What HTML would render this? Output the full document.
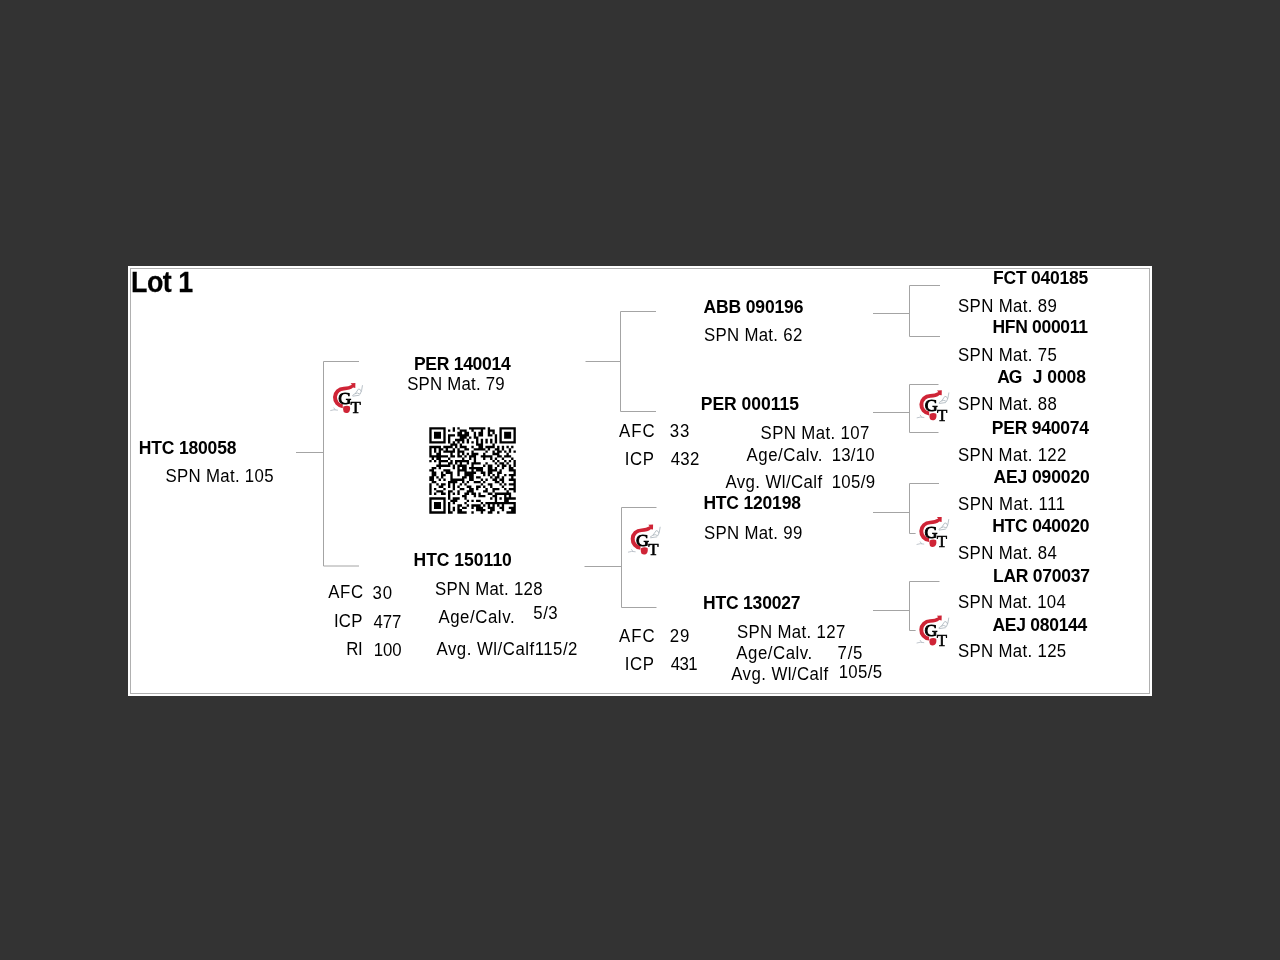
<!DOCTYPE html>
<html><head><meta charset="utf-8"><style>
html,body{margin:0;padding:0;background:#333;}
svg{display:block;filter:blur(0.35px);}
</style></head><body>
<svg width="1280" height="960" viewBox="0 0 1280 960">
<defs><g id="gt">
<rect x="-3.6" y="-36" width="37" height="40" fill="#fff"/>
<path d="M10.8 -27A10.7 10.7 0 0 0 9.87 -5.64L9.88 -9.5A7 7 0 0 1 11.1 -23.4Q17.2 -23.6 20.2 -26.2L22.4 -25.8L22.5 -30.8L17.7 -30.6L19 -29.1Q15.8 -27 10.8 -27Z" fill="#cf2436"/>
<path d="M10.4 -7.2Q14 -9 17 -7.4Q17.8 -3.4 15.6 -1.4Q13 0 10.8 -1.8Q9.7 -4.4 10.4 -7.2Z" fill="#cf2436"/>
<path d="M19.4 -18.2Q22 -20.5 24.5 -20.8L27.2 -19.6Q29 -22.5 29.6 -28.6M22.2 -20L25.6 -24.8Q27.6 -25 28.4 -22.2M19.8 -17.6L26.6 -18.6" fill="none" stroke="#a9b3bb" stroke-width="0.9" opacity="0.9"/>
<path d="M-2.6 -3.2Q1 -4.6 5 -3.6M0.8 -6.2L2.4 -3.8" fill="none" stroke="#b0b8c0" stroke-width="0.8"/>
<text x="5.4" y="-9.8" font-family="Liberation Serif" font-size="17.3" fill="#000" stroke="#000" stroke-width="0.9" transform="translate(5.4 0) scale(1.04 1) translate(-5.4 0)">G</text>
<text x="17.6" y="-0.45" font-family="Liberation Serif" font-size="16.9" fill="#000" stroke="#000" stroke-width="0.6" transform="translate(17.6 0) scale(1.0 1) translate(-17.6 0)">T</text>
</g></defs>
<rect width="1280" height="960" fill="#333333"/>
<rect x="128" y="266" width="1024" height="430" fill="#ffffff"/>
<rect x="130.5" y="268.5" width="1019" height="425" fill="none" stroke="#b0b0b0" stroke-width="1"/>
<g stroke="#a4a4a4" stroke-width="1" fill="none">
<path d="M296 452.5H323.5"/>
<path d="M323.5 361.5V566"/>
<path d="M323.5 361.5H359"/>
<path d="M323.5 566H359"/>
<path d="M585.5 361.5H620.5"/>
<path d="M620.5 311.5V411.5"/>
<path d="M620.5 311.5H656"/>
<path d="M620.5 411.5H656"/>
<path d="M584.5 566.5H621.5"/>
<path d="M621.5 507.5V607.5"/>
<path d="M621.5 507.5H656.5"/>
<path d="M621.5 607.5H656.5"/>
<path d="M873 313.5H909.5"/>
<path d="M909.5 285.5V336.5"/>
<path d="M909.5 285.5H940"/>
<path d="M909.5 336.5H940"/>
<path d="M873 412.5H909.5"/>
<path d="M909.5 384.5V432.5"/>
<path d="M909.5 384.5H938.5"/>
<path d="M909.5 432.5H938.5"/>
<path d="M873 512.5H909.5"/>
<path d="M909.5 483.5V533.5"/>
<path d="M909.5 483.5H939"/>
<path d="M909.5 533.5H939"/>
<path d="M873 610.5H909.5"/>
<path d="M909.5 581.5V630.5"/>
<path d="M909.5 581.5H939.5"/>
<path d="M909.5 630.5H939.5"/>
</g>
<use href="#gt" transform="translate(332.9 413.8)"/>
<use href="#gt" transform="translate(630.6 555.4)"/>
<use href="#gt" transform="translate(919.3 421.1)"/>
<use href="#gt" transform="translate(919.2 547.7)"/>
<use href="#gt" transform="translate(919.2 646.25)"/>
<path fill="#000" d="M429.30 427.15h16.37v2.34h-16.37zM452.68 427.15h2.34v2.34h-2.34zM457.36 427.15h2.34v2.34h-2.34zM469.05 427.15h16.37v2.34h-16.37zM487.75 427.15h2.34v2.34h-2.34zM499.44 427.15h16.37v2.34h-16.37zM429.30 429.49h2.34v2.34h-2.34zM443.33 429.49h2.34v2.34h-2.34zM448.00 429.49h2.34v2.34h-2.34zM452.68 429.49h2.34v2.34h-2.34zM459.69 429.49h7.01v2.34h-7.01zM471.38 429.49h2.34v2.34h-2.34zM480.74 429.49h2.34v2.34h-2.34zM487.75 429.49h7.01v2.34h-7.01zM499.44 429.49h2.34v2.34h-2.34zM513.47 429.49h2.34v2.34h-2.34zM429.30 431.83h2.34v2.34h-2.34zM433.98 431.83h7.01v2.34h-7.01zM443.33 431.83h2.34v2.34h-2.34zM457.36 431.83h4.68v2.34h-4.68zM464.37 431.83h4.68v2.34h-4.68zM473.72 431.83h2.34v2.34h-2.34zM478.40 431.83h4.68v2.34h-4.68zM487.75 431.83h2.34v2.34h-2.34zM492.43 431.83h2.34v2.34h-2.34zM499.44 431.83h2.34v2.34h-2.34zM504.12 431.83h7.01v2.34h-7.01zM513.47 431.83h2.34v2.34h-2.34zM429.30 434.16h2.34v2.34h-2.34zM433.98 434.16h7.01v2.34h-7.01zM443.33 434.16h2.34v2.34h-2.34zM448.00 434.16h7.01v2.34h-7.01zM457.36 434.16h11.69v2.34h-11.69zM473.72 434.16h2.34v2.34h-2.34zM478.40 434.16h4.68v2.34h-4.68zM487.75 434.16h4.68v2.34h-4.68zM494.76 434.16h2.34v2.34h-2.34zM499.44 434.16h2.34v2.34h-2.34zM504.12 434.16h7.01v2.34h-7.01zM513.47 434.16h2.34v2.34h-2.34zM429.30 436.50h2.34v2.34h-2.34zM433.98 436.50h7.01v2.34h-7.01zM443.33 436.50h2.34v2.34h-2.34zM448.00 436.50h2.34v2.34h-2.34zM459.69 436.50h7.01v2.34h-7.01zM469.05 436.50h2.34v2.34h-2.34zM473.72 436.50h4.68v2.34h-4.68zM494.76 436.50h2.34v2.34h-2.34zM499.44 436.50h2.34v2.34h-2.34zM504.12 436.50h7.01v2.34h-7.01zM513.47 436.50h2.34v2.34h-2.34zM429.30 438.84h2.34v2.34h-2.34zM443.33 438.84h2.34v2.34h-2.34zM448.00 438.84h2.34v2.34h-2.34zM455.02 438.84h9.35v2.34h-9.35zM466.71 438.84h2.34v2.34h-2.34zM476.06 438.84h2.34v2.34h-2.34zM480.74 438.84h2.34v2.34h-2.34zM485.41 438.84h2.34v2.34h-2.34zM490.09 438.84h2.34v2.34h-2.34zM494.76 438.84h2.34v2.34h-2.34zM499.44 438.84h2.34v2.34h-2.34zM513.47 438.84h2.34v2.34h-2.34zM429.30 441.18h16.37v2.34h-16.37zM448.00 441.18h2.34v2.34h-2.34zM452.68 441.18h2.34v2.34h-2.34zM457.36 441.18h2.34v2.34h-2.34zM462.03 441.18h2.34v2.34h-2.34zM466.71 441.18h2.34v2.34h-2.34zM471.38 441.18h2.34v2.34h-2.34zM476.06 441.18h2.34v2.34h-2.34zM480.74 441.18h2.34v2.34h-2.34zM485.41 441.18h2.34v2.34h-2.34zM490.09 441.18h2.34v2.34h-2.34zM494.76 441.18h2.34v2.34h-2.34zM499.44 441.18h16.37v2.34h-16.37zM450.34 443.52h7.01v2.34h-7.01zM459.69 443.52h2.34v2.34h-2.34zM476.06 443.52h7.01v2.34h-7.01zM492.43 443.52h2.34v2.34h-2.34zM429.30 445.85h11.69v2.34h-11.69zM443.33 445.85h9.35v2.34h-9.35zM455.02 445.85h2.34v2.34h-2.34zM459.69 445.85h7.01v2.34h-7.01zM471.38 445.85h2.34v2.34h-2.34zM478.40 445.85h4.68v2.34h-4.68zM485.41 445.85h9.35v2.34h-9.35zM497.10 445.85h2.34v2.34h-2.34zM501.78 445.85h2.34v2.34h-2.34zM506.45 445.85h2.34v2.34h-2.34zM511.13 445.85h2.34v2.34h-2.34zM429.30 448.19h2.34v2.34h-2.34zM433.98 448.19h2.34v2.34h-2.34zM438.65 448.19h4.68v2.34h-4.68zM445.67 448.19h2.34v2.34h-2.34zM452.68 448.19h2.34v2.34h-2.34zM457.36 448.19h2.34v2.34h-2.34zM464.37 448.19h4.68v2.34h-4.68zM473.72 448.19h11.69v2.34h-11.69zM487.75 448.19h2.34v2.34h-2.34zM494.76 448.19h4.68v2.34h-4.68zM501.78 448.19h2.34v2.34h-2.34zM508.79 448.19h2.34v2.34h-2.34zM429.30 450.53h2.34v2.34h-2.34zM433.98 450.53h2.34v2.34h-2.34zM438.65 450.53h2.34v2.34h-2.34zM443.33 450.53h11.69v2.34h-11.69zM457.36 450.53h7.01v2.34h-7.01zM471.38 450.53h2.34v2.34h-2.34zM485.41 450.53h2.34v2.34h-2.34zM492.43 450.53h2.34v2.34h-2.34zM497.10 450.53h4.68v2.34h-4.68zM504.12 450.53h2.34v2.34h-2.34zM508.79 450.53h2.34v2.34h-2.34zM513.47 450.53h2.34v2.34h-2.34zM429.30 452.87h2.34v2.34h-2.34zM436.31 452.87h4.68v2.34h-4.68zM450.34 452.87h2.34v2.34h-2.34zM457.36 452.87h2.34v2.34h-2.34zM462.03 452.87h2.34v2.34h-2.34zM466.71 452.87h2.34v2.34h-2.34zM471.38 452.87h7.01v2.34h-7.01zM483.07 452.87h2.34v2.34h-2.34zM492.43 452.87h7.01v2.34h-7.01zM506.45 452.87h2.34v2.34h-2.34zM429.30 455.21h18.70v2.34h-18.70zM450.34 455.21h4.68v2.34h-4.68zM457.36 455.21h4.68v2.34h-4.68zM464.37 455.21h2.34v2.34h-2.34zM469.05 455.21h7.01v2.34h-7.01zM480.74 455.21h11.69v2.34h-11.69zM497.10 455.21h4.68v2.34h-4.68zM504.12 455.21h7.01v2.34h-7.01zM431.64 457.54h2.34v2.34h-2.34zM436.31 457.54h4.68v2.34h-4.68zM448.00 457.54h2.34v2.34h-2.34zM462.03 457.54h2.34v2.34h-2.34zM469.05 457.54h2.34v2.34h-2.34zM473.72 457.54h2.34v2.34h-2.34zM483.07 457.54h2.34v2.34h-2.34zM490.09 457.54h2.34v2.34h-2.34zM494.76 457.54h2.34v2.34h-2.34zM501.78 457.54h2.34v2.34h-2.34zM511.13 457.54h2.34v2.34h-2.34zM429.30 459.88h2.34v2.34h-2.34zM433.98 459.88h2.34v2.34h-2.34zM438.65 459.88h9.35v2.34h-9.35zM450.34 459.88h2.34v2.34h-2.34zM455.02 459.88h14.03v2.34h-14.03zM473.72 459.88h2.34v2.34h-2.34zM492.43 459.88h2.34v2.34h-2.34zM497.10 459.88h2.34v2.34h-2.34zM504.12 459.88h2.34v2.34h-2.34zM508.79 459.88h2.34v2.34h-2.34zM513.47 459.88h2.34v2.34h-2.34zM438.65 462.22h2.34v2.34h-2.34zM448.00 462.22h4.68v2.34h-4.68zM455.02 462.22h2.34v2.34h-2.34zM459.69 462.22h2.34v2.34h-2.34zM466.71 462.22h2.34v2.34h-2.34zM471.38 462.22h9.35v2.34h-9.35zM485.41 462.22h2.34v2.34h-2.34zM494.76 462.22h2.34v2.34h-2.34zM499.44 462.22h4.68v2.34h-4.68zM506.45 462.22h2.34v2.34h-2.34zM513.47 462.22h2.34v2.34h-2.34zM436.31 464.56h14.03v2.34h-14.03zM452.68 464.56h2.34v2.34h-2.34zM457.36 464.56h9.35v2.34h-9.35zM471.38 464.56h2.34v2.34h-2.34zM483.07 464.56h2.34v2.34h-2.34zM487.75 464.56h4.68v2.34h-4.68zM497.10 464.56h2.34v2.34h-2.34zM501.78 464.56h4.68v2.34h-4.68zM508.79 464.56h2.34v2.34h-2.34zM513.47 464.56h2.34v2.34h-2.34zM431.64 466.90h4.68v2.34h-4.68zM438.65 466.90h2.34v2.34h-2.34zM452.68 466.90h2.34v2.34h-2.34zM457.36 466.90h2.34v2.34h-2.34zM462.03 466.90h4.68v2.34h-4.68zM469.05 466.90h14.03v2.34h-14.03zM487.75 466.90h4.68v2.34h-4.68zM494.76 466.90h2.34v2.34h-2.34zM501.78 466.90h2.34v2.34h-2.34zM508.79 466.90h4.68v2.34h-4.68zM429.30 469.23h4.68v2.34h-4.68zM443.33 469.23h7.01v2.34h-7.01zM457.36 469.23h9.35v2.34h-9.35zM471.38 469.23h2.34v2.34h-2.34zM476.06 469.23h7.01v2.34h-7.01zM487.75 469.23h9.35v2.34h-9.35zM499.44 469.23h2.34v2.34h-2.34zM508.79 469.23h7.01v2.34h-7.01zM431.64 471.57h4.68v2.34h-4.68zM440.99 471.57h2.34v2.34h-2.34zM445.67 471.57h7.01v2.34h-7.01zM457.36 471.57h2.34v2.34h-2.34zM464.37 471.57h11.69v2.34h-11.69zM480.74 471.57h4.68v2.34h-4.68zM487.75 471.57h4.68v2.34h-4.68zM497.10 471.57h4.68v2.34h-4.68zM513.47 471.57h2.34v2.34h-2.34zM431.64 473.91h4.68v2.34h-4.68zM440.99 473.91h4.68v2.34h-4.68zM450.34 473.91h2.34v2.34h-2.34zM457.36 473.91h2.34v2.34h-2.34zM464.37 473.91h9.35v2.34h-9.35zM483.07 473.91h2.34v2.34h-2.34zM487.75 473.91h2.34v2.34h-2.34zM492.43 473.91h2.34v2.34h-2.34zM497.10 473.91h2.34v2.34h-2.34zM504.12 473.91h2.34v2.34h-2.34zM508.79 473.91h7.01v2.34h-7.01zM429.30 476.25h4.68v2.34h-4.68zM436.31 476.25h2.34v2.34h-2.34zM440.99 476.25h2.34v2.34h-2.34zM450.34 476.25h2.34v2.34h-2.34zM462.03 476.25h4.68v2.34h-4.68zM469.05 476.25h4.68v2.34h-4.68zM476.06 476.25h4.68v2.34h-4.68zM490.09 476.25h2.34v2.34h-2.34zM494.76 476.25h4.68v2.34h-4.68zM501.78 476.25h2.34v2.34h-2.34zM511.13 476.25h2.34v2.34h-2.34zM429.30 478.59h4.68v2.34h-4.68zM438.65 478.59h2.34v2.34h-2.34zM443.33 478.59h2.34v2.34h-2.34zM450.34 478.59h14.03v2.34h-14.03zM469.05 478.59h4.68v2.34h-4.68zM480.74 478.59h2.34v2.34h-2.34zM485.41 478.59h2.34v2.34h-2.34zM492.43 478.59h4.68v2.34h-4.68zM499.44 478.59h4.68v2.34h-4.68zM508.79 478.59h7.01v2.34h-7.01zM431.64 480.92h4.68v2.34h-4.68zM448.00 480.92h9.35v2.34h-9.35zM462.03 480.92h2.34v2.34h-2.34zM466.71 480.92h2.34v2.34h-2.34zM473.72 480.92h7.01v2.34h-7.01zM483.07 480.92h2.34v2.34h-2.34zM494.76 480.92h4.68v2.34h-4.68zM501.78 480.92h2.34v2.34h-2.34zM513.47 480.92h2.34v2.34h-2.34zM429.30 483.26h2.34v2.34h-2.34zM436.31 483.26h2.34v2.34h-2.34zM440.99 483.26h4.68v2.34h-4.68zM448.00 483.26h2.34v2.34h-2.34zM452.68 483.26h2.34v2.34h-2.34zM459.69 483.26h2.34v2.34h-2.34zM464.37 483.26h2.34v2.34h-2.34zM480.74 483.26h2.34v2.34h-2.34zM487.75 483.26h4.68v2.34h-4.68zM499.44 483.26h2.34v2.34h-2.34zM504.12 483.26h2.34v2.34h-2.34zM508.79 483.26h7.01v2.34h-7.01zM429.30 485.60h2.34v2.34h-2.34zM438.65 485.60h4.68v2.34h-4.68zM448.00 485.60h2.34v2.34h-2.34zM452.68 485.60h2.34v2.34h-2.34zM457.36 485.60h2.34v2.34h-2.34zM466.71 485.60h4.68v2.34h-4.68zM476.06 485.60h4.68v2.34h-4.68zM483.07 485.60h2.34v2.34h-2.34zM490.09 485.60h2.34v2.34h-2.34zM501.78 485.60h2.34v2.34h-2.34zM513.47 485.60h2.34v2.34h-2.34zM429.30 487.94h2.34v2.34h-2.34zM433.98 487.94h2.34v2.34h-2.34zM443.33 487.94h2.34v2.34h-2.34zM452.68 487.94h2.34v2.34h-2.34zM459.69 487.94h4.68v2.34h-4.68zM469.05 487.94h4.68v2.34h-4.68zM476.06 487.94h2.34v2.34h-2.34zM485.41 487.94h2.34v2.34h-2.34zM492.43 487.94h7.01v2.34h-7.01zM504.12 487.94h2.34v2.34h-2.34zM508.79 487.94h7.01v2.34h-7.01zM429.30 490.28h2.34v2.34h-2.34zM436.31 490.28h7.01v2.34h-7.01zM448.00 490.28h4.68v2.34h-4.68zM457.36 490.28h2.34v2.34h-2.34zM466.71 490.28h7.01v2.34h-7.01zM483.07 490.28h4.68v2.34h-4.68zM492.43 490.28h2.34v2.34h-2.34zM506.45 490.28h2.34v2.34h-2.34zM513.47 490.28h2.34v2.34h-2.34zM429.30 492.61h2.34v2.34h-2.34zM433.98 492.61h2.34v2.34h-2.34zM440.99 492.61h4.68v2.34h-4.68zM448.00 492.61h2.34v2.34h-2.34zM452.68 492.61h2.34v2.34h-2.34zM457.36 492.61h2.34v2.34h-2.34zM464.37 492.61h4.68v2.34h-4.68zM471.38 492.61h4.68v2.34h-4.68zM478.40 492.61h2.34v2.34h-2.34zM487.75 492.61h4.68v2.34h-4.68zM494.76 492.61h16.37v2.34h-16.37zM448.00 494.95h2.34v2.34h-2.34zM462.03 494.95h4.68v2.34h-4.68zM473.72 494.95h2.34v2.34h-2.34zM478.40 494.95h7.01v2.34h-7.01zM492.43 494.95h4.68v2.34h-4.68zM504.12 494.95h2.34v2.34h-2.34zM508.79 494.95h2.34v2.34h-2.34zM429.30 497.29h16.37v2.34h-16.37zM448.00 497.29h2.34v2.34h-2.34zM452.68 497.29h7.01v2.34h-7.01zM464.37 497.29h2.34v2.34h-2.34zM490.09 497.29h2.34v2.34h-2.34zM494.76 497.29h2.34v2.34h-2.34zM499.44 497.29h2.34v2.34h-2.34zM504.12 497.29h11.69v2.34h-11.69zM429.30 499.63h2.34v2.34h-2.34zM443.33 499.63h2.34v2.34h-2.34zM450.34 499.63h7.01v2.34h-7.01zM466.71 499.63h2.34v2.34h-2.34zM471.38 499.63h2.34v2.34h-2.34zM476.06 499.63h4.68v2.34h-4.68zM494.76 499.63h2.34v2.34h-2.34zM504.12 499.63h4.68v2.34h-4.68zM429.30 501.97h2.34v2.34h-2.34zM433.98 501.97h7.01v2.34h-7.01zM443.33 501.97h2.34v2.34h-2.34zM448.00 501.97h2.34v2.34h-2.34zM452.68 501.97h2.34v2.34h-2.34zM464.37 501.97h2.34v2.34h-2.34zM480.74 501.97h2.34v2.34h-2.34zM485.41 501.97h30.39v2.34h-30.39zM429.30 504.30h2.34v2.34h-2.34zM433.98 504.30h7.01v2.34h-7.01zM443.33 504.30h2.34v2.34h-2.34zM448.00 504.30h2.34v2.34h-2.34zM457.36 504.30h4.68v2.34h-4.68zM466.71 504.30h2.34v2.34h-2.34zM471.38 504.30h9.35v2.34h-9.35zM483.07 504.30h2.34v2.34h-2.34zM487.75 504.30h2.34v2.34h-2.34zM492.43 504.30h2.34v2.34h-2.34zM497.10 504.30h2.34v2.34h-2.34zM501.78 504.30h2.34v2.34h-2.34zM513.47 504.30h2.34v2.34h-2.34zM429.30 506.64h2.34v2.34h-2.34zM433.98 506.64h7.01v2.34h-7.01zM443.33 506.64h2.34v2.34h-2.34zM448.00 506.64h2.34v2.34h-2.34zM452.68 506.64h2.34v2.34h-2.34zM457.36 506.64h2.34v2.34h-2.34zM462.03 506.64h4.68v2.34h-4.68zM471.38 506.64h2.34v2.34h-2.34zM476.06 506.64h7.01v2.34h-7.01zM487.75 506.64h7.01v2.34h-7.01zM499.44 506.64h4.68v2.34h-4.68zM508.79 506.64h7.01v2.34h-7.01zM429.30 508.98h2.34v2.34h-2.34zM443.33 508.98h2.34v2.34h-2.34zM448.00 508.98h2.34v2.34h-2.34zM452.68 508.98h2.34v2.34h-2.34zM457.36 508.98h4.68v2.34h-4.68zM476.06 508.98h9.35v2.34h-9.35zM490.09 508.98h4.68v2.34h-4.68zM501.78 508.98h2.34v2.34h-2.34zM511.13 508.98h4.68v2.34h-4.68zM429.30 511.32h16.37v2.34h-16.37zM448.00 511.32h4.68v2.34h-4.68zM457.36 511.32h9.35v2.34h-9.35zM471.38 511.32h2.34v2.34h-2.34zM480.74 511.32h2.34v2.34h-2.34zM487.75 511.32h4.68v2.34h-4.68zM497.10 511.32h2.34v2.34h-2.34zM506.45 511.32h9.35v2.34h-9.35z"/>
<g font-family="Liberation Sans" fill="#000" style="white-space:pre">
<text transform="translate(130.98 291.75) scale(0.92 1)" font-size="29.2" letter-spacing="-0.533" stroke="#000" stroke-width="0.25" font-weight="700">Lot 1</text>
<text transform="translate(138.80 453.55) scale(1.0 1)" font-size="17.5" letter-spacing="-0.172" font-weight="700">HTC 180058</text>
<text transform="translate(165.54 482.05) scale(0.96 1)" font-size="17.5" letter-spacing="0.324">SPN Mat. 105</text>
<text transform="translate(413.90 369.85) scale(1.0 1)" font-size="17.5" letter-spacing="-0.267" font-weight="700">PER 140014</text>
<text transform="translate(407.19 389.55) scale(0.96 1)" font-size="17.5" letter-spacing="0.236">SPN Mat. 79</text>
<text transform="translate(413.50 565.55) scale(1.0 1)" font-size="17.5" letter-spacing="0.011" font-weight="700">HTC 150110</text>
<text transform="translate(328.15 597.95) scale(0.96 1)" font-size="17.5" letter-spacing="0.734">AFC</text>
<text transform="translate(372.54 599.05) scale(0.96 1)" font-size="17.5" letter-spacing="0.958">30</text>
<text transform="translate(333.94 626.85) scale(0.96 1)" font-size="17.5" letter-spacing="0.219">ICP</text>
<text transform="translate(373.50 628.15) scale(0.96 1)" font-size="17.5" letter-spacing="-0.125">477</text>
<text transform="translate(346.14 654.85) scale(0.96 1)" font-size="17.5" letter-spacing="-0.271">RI</text>
<text transform="translate(373.74 656.15) scale(0.96 1)" font-size="17.5" letter-spacing="-0.146">100</text>
<text transform="translate(434.94 595.05) scale(0.96 1)" font-size="17.5" letter-spacing="0.286">SPN Mat. 128</text>
<text transform="translate(438.40 623.25) scale(0.96 1)" font-size="17.5" letter-spacing="0.602">Age/Calv.</text>
<text transform="translate(533.34 619.25) scale(0.96 1)" font-size="17.5" letter-spacing="0.531">5/3</text>
<text transform="translate(436.50 654.55) scale(0.96 1)" font-size="17.5" letter-spacing="0.529">Avg. Wl/Calf115/2</text>
<text transform="translate(703.60 313.00) scale(1.0 1)" font-size="17.5" letter-spacing="-0.156" font-weight="700">ABB 090196</text>
<text transform="translate(703.94 340.65) scale(0.96 1)" font-size="17.5" letter-spacing="0.335">SPN Mat. 62</text>
<text transform="translate(700.80 410.45) scale(1.0 1)" font-size="17.5" letter-spacing="-0.022" font-weight="700">PER 000115</text>
<text transform="translate(619.10 436.55) scale(0.96 1)" font-size="17.5" letter-spacing="1.073">AFC</text>
<text transform="translate(669.74 436.75) scale(0.96 1)" font-size="17.5" letter-spacing="0.854">33</text>
<text transform="translate(624.69 464.95) scale(0.96 1)" font-size="17.5" letter-spacing="0.661">ICP</text>
<text transform="translate(670.70 465.15) scale(0.96 1)" font-size="17.5" letter-spacing="0.292">432</text>
<text transform="translate(760.54 439.35) scale(0.96 1)" font-size="17.5" letter-spacing="0.415">SPN Mat. 107</text>
<text transform="translate(746.60 460.55) scale(0.96 1)" font-size="17.5" letter-spacing="0.562">Age/Calv.</text>
<text transform="translate(831.64 460.55) scale(0.96 1)" font-size="17.5" letter-spacing="0.240">13/10</text>
<text transform="translate(725.40 487.95) scale(0.96 1)" font-size="17.5" letter-spacing="0.449">Avg. Wl/Calf</text>
<text transform="translate(831.64 487.95) scale(0.96 1)" font-size="17.5" letter-spacing="0.344">105/9</text>
<text transform="translate(703.40 509.45) scale(1.0 1)" font-size="17.5" letter-spacing="-0.189" font-weight="700">HTC 120198</text>
<text transform="translate(703.94 538.65) scale(0.96 1)" font-size="17.5" letter-spacing="0.335">SPN Mat. 99</text>
<text transform="translate(703.00 609.25) scale(1.0 1)" font-size="17.5" letter-spacing="-0.189" font-weight="700">HTC 130027</text>
<text transform="translate(619.10 641.55) scale(0.96 1)" font-size="17.5" letter-spacing="1.073">AFC</text>
<text transform="translate(669.74 641.55) scale(0.96 1)" font-size="17.5" letter-spacing="0.854">29</text>
<text transform="translate(624.69 670.45) scale(0.96 1)" font-size="17.5" letter-spacing="0.661">ICP</text>
<text transform="translate(670.70 670.45) scale(0.96 1)" font-size="17.5" letter-spacing="-0.542">431</text>
<text transform="translate(736.94 637.65) scale(0.96 1)" font-size="17.5" letter-spacing="0.367">SPN Mat. 127</text>
<text transform="translate(736.30 659.15) scale(0.96 1)" font-size="17.5" letter-spacing="0.563">Age/Calv.</text>
<text transform="translate(837.54 659.15) scale(0.96 1)" font-size="17.5" letter-spacing="0.792">7/5</text>
<text transform="translate(731.30 680.35) scale(0.96 1)" font-size="17.5" letter-spacing="0.449">Avg. Wl/Calf</text>
<text transform="translate(838.64 678.15) scale(0.96 1)" font-size="17.5" letter-spacing="0.359">105/5</text>
<text transform="translate(993.00 283.90) scale(1.0 1)" font-size="17.5" letter-spacing="-0.222" font-weight="700">FCT 040185</text>
<text transform="translate(958.04 312.05) scale(0.96 1)" font-size="17.5" letter-spacing="0.367">SPN Mat. 89</text>
<text transform="translate(992.50 333.15) scale(1.0 1)" font-size="17.5" letter-spacing="-0.311" font-weight="700">HFN 000011</text>
<text transform="translate(958.04 361.25) scale(0.96 1)" font-size="17.5" letter-spacing="0.367">SPN Mat. 75</text>
<text transform="translate(997.20 382.95) scale(1.0 1)" font-size="17.5" letter-spacing="-1.100" font-weight="700">AG</text>
<text transform="translate(1032.80 382.95) scale(1.0 1)" font-size="17.5" letter-spacing="-0.080" font-weight="700">J 0008</text>
<text transform="translate(958.04 410.45) scale(0.96 1)" font-size="17.5" letter-spacing="0.367">SPN Mat. 88</text>
<text transform="translate(991.80 433.90) scale(1.0 1)" font-size="17.5" letter-spacing="-0.233" font-weight="700">PER 940074</text>
<text transform="translate(958.04 460.85) scale(0.96 1)" font-size="17.5" letter-spacing="0.362">SPN Mat. 122</text>
<text transform="translate(993.40 482.55) scale(1.0 1)" font-size="17.5" letter-spacing="-0.100" font-weight="700">AEJ 090020</text>
<text transform="translate(958.04 510.05) scale(0.96 1)" font-size="17.5" letter-spacing="0.473">SPN Mat. 111</text>
<text transform="translate(992.20 531.95) scale(1.0 1)" font-size="17.5" letter-spacing="-0.222" font-weight="700">HTC 040020</text>
<text transform="translate(958.04 558.75) scale(0.96 1)" font-size="17.5" letter-spacing="0.367">SPN Mat. 84</text>
<text transform="translate(993.00 581.55) scale(1.0 1)" font-size="17.5" letter-spacing="-0.256" font-weight="700">LAR 070037</text>
<text transform="translate(958.04 608.25) scale(0.96 1)" font-size="17.5" letter-spacing="0.305">SPN Mat. 104</text>
<text transform="translate(992.50 630.75) scale(1.0 1)" font-size="17.5" letter-spacing="-0.278" font-weight="700">AEJ 080144</text>
<text transform="translate(958.04 657.45) scale(0.96 1)" font-size="17.5" letter-spacing="0.343">SPN Mat. 125</text>
</g>
</svg>
</body></html>
